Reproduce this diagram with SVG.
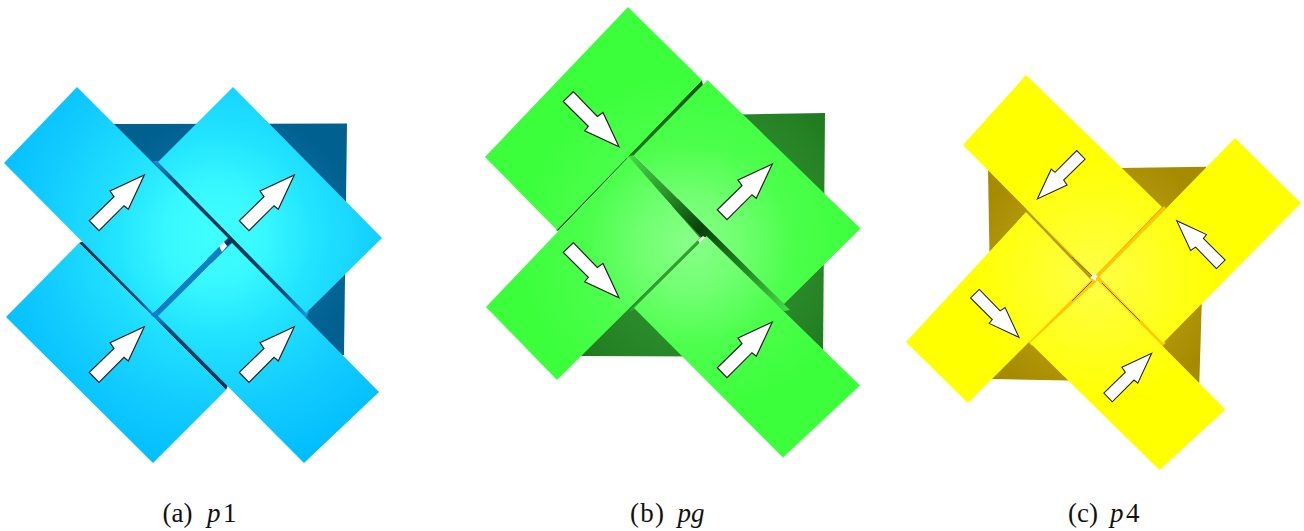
<svg xmlns="http://www.w3.org/2000/svg" width="1304" height="531" viewBox="0 0 1304 531">
<style>
.cap{font-family:"Liberation Serif","Times New Roman",serif;font-size:27px;fill:#111}
.cap .i{font-style:italic}
.arrow{fill:#fff;stroke:#222;stroke-width:1.2;stroke-linejoin:miter}
.ta{fill:url(#ga)}.tb{fill:url(#gb)}.tc{fill:url(#gc)}
.seam{stroke:#7a6400;stroke-width:1;fill:none}
</style>
<defs>
<radialGradient id="ga" gradientUnits="userSpaceOnUse" cx="215" cy="235" r="245"><stop offset="0" stop-color="#40ffff"/><stop offset=".2" stop-color="#38f8ff"/><stop offset=".4" stop-color="#22e4ff"/><stop offset=".7" stop-color="#12ccff"/><stop offset="1" stop-color="#00bcff"/></radialGradient>
<radialGradient id="gb" gradientUnits="userSpaceOnUse" cx="690" cy="245" r="170"><stop offset="0" stop-color="#88ff88"/><stop offset=".3" stop-color="#70ff70"/><stop offset=".6" stop-color="#4cff4c"/><stop offset="1" stop-color="#3cff3c"/></radialGradient>
<radialGradient id="gc" gradientUnits="userSpaceOnUse" cx="1095" cy="278" r="125"><stop offset="0" stop-color="#ffff48"/><stop offset="1" stop-color="#ffff00"/></radialGradient>
<linearGradient id="s1" gradientUnits="userSpaceOnUse" x1="153" y1="162" x2="306" y2="313"><stop offset="0" stop-color="#1a90e0"/><stop offset=".14" stop-color="#084a70"/><stop offset=".5" stop-color="#002f4c"/><stop offset=".86" stop-color="#084a70"/><stop offset="1" stop-color="#1a90e0"/></linearGradient>
<linearGradient id="s2" gradientUnits="userSpaceOnUse" x1="79" y1="243" x2="226" y2="390"><stop offset="0" stop-color="#002f4c"/><stop offset=".4" stop-color="#084a70"/><stop offset=".5" stop-color="#1a90e0"/><stop offset=".6" stop-color="#084a70"/><stop offset="1" stop-color="#002f4c"/></linearGradient>
<linearGradient id="s3" gradientUnits="userSpaceOnUse" x1="630" y1="156" x2="787" y2="308"><stop offset="0" stop-color="#46d846"/><stop offset=".22" stop-color="#2a9a2a"/><stop offset=".46" stop-color="#0c400c"/><stop offset=".75" stop-color="#228a22"/><stop offset="1" stop-color="#46d846"/></linearGradient>
<linearGradient id="s4" gradientUnits="userSpaceOnUse" x1="556" y1="230" x2="703" y2="80"><stop offset="0" stop-color="#115511"/><stop offset=".5" stop-color="#1c7a1c"/><stop offset="1" stop-color="#115511"/></linearGradient>
<radialGradient id="ba" gradientUnits="userSpaceOnUse" cx="230" cy="240" r="130"><stop offset=".7" stop-color="#0a6aa0"/><stop offset="1" stop-color="#00608f"/></radialGradient>
<radialGradient id="bb" gradientUnits="userSpaceOnUse" cx="700" cy="235" r="180"><stop offset=".6" stop-color="#2a8a2a"/><stop offset="1" stop-color="#1f781f"/></radialGradient>
<radialGradient id="bc" gradientUnits="userSpaceOnUse" cx="1095" cy="275" r="130"><stop offset=".55" stop-color="#b89c10"/><stop offset="1" stop-color="#a68a00"/></radialGradient>
<polygon id="arr" points="-55,45.7 -30.3,21.7 -34.3,16 0,0 -16,34.3 -20.3,30.7 -45.3,55.7"/>
</defs>

<g id="connectors"/>

<g id="panel-a">
  <polygon id="a-back" fill="url(#ba)" points="112,124 347,123.500 344,355 300,355 150,200"/>
  <polygon id="a-gap1" fill="url(#s1)" points="153,161 159,161 309,312 306,318 231,243 226,241"/>
  <polygon id="a-gap2" fill="url(#s2)" points="79,243 84,241 228,385 226,390 154,318"/>
  <polygon id="a-gap3" fill="#0a80c8" points="221,245 230,244 158,318 150,316"/>
  <polygon fill="#00385a" points="223,240 230,237 233,242 227,246"/>
  <polygon fill="#fff" points="218,244 224,242 227,246 222,252"/>
  <g id="a-tile-1"><polygon class="ta" points="77,87 4,163 153,313 228,238"/></g>
  <g id="a-tile-2"><polygon class="ta" points="233,87 382,238 306,313 158,162"/></g>
  <g id="a-tile-3"><polygon class="ta" points="6,317 79,243 226,390 153,463"/></g>
  <g id="a-tile-4"><polygon class="ta" points="158,316 232,243 379,392 304,463"/></g>
  <g id="a-arrows" class="arrow">
    <use href="#arr" transform="translate(144.3,175)"/>
    <use href="#arr" transform="translate(294.3,175)"/>
    <use href="#arr" transform="translate(144.3,326.700)"/>
    <use href="#arr" transform="translate(294.3,326.700)"/>
  </g>
</g>

<g id="panel-b">
  <polygon id="b-back" fill="url(#bb)" points="740,114.500 825,113 823,357 581,356 640,250"/>
  <polygon id="b-gap1" fill="url(#s4)" points="702,80 703,86 632,158 628,158 558,231 556,230"/>
  <polygon id="b-gap2" fill="url(#s3)" points="626,157 634,155 790,310 784,311 703,239"/>
  <polygon id="b-gap3" fill="#2f9f2f" points="698,238 708,238 634,310 628,312"/>
  <polygon fill="#fff" points="698,240 703,236 706,238 700,244"/>
  <g id="b-tile-1"><polygon class="tb" points="628,7 485,157 557,230 702,80"/></g>
  <g id="b-tile-2"><polygon class="tb" points="486,307 629,157 700,238 557,380"/></g>
  <g id="b-tile-3"><polygon class="tb" points="707.500,80 860.500,228.500 784,304 634,155"/></g>
  <g id="b-tile-4"><polygon class="tb" points="706.500,236 860,385.500 783,457.500 634,308"/></g>
  <g id="b-arrows" class="arrow">
    <use href="#arr" transform="translate(619,146.700) rotate(90)"/>
    <use href="#arr" transform="translate(619,297.700) rotate(90)"/>
    <use href="#arr" transform="translate(772.300,164)"/>
    <use href="#arr" transform="translate(772.300,322)"/>
  </g>
</g>

<g id="panel-c">
  <polygon id="c-back" fill="url(#bc)" points="988,170 1206,166.700 1199.300,383 991.700,379"/>
  <polygon id="c-gap" fill="#ffc800" points="1026,209 1030,209 1097,274 1164,206 1166,208 1100,278 1166,343 1162,346 1096,282 1032,346 1028,342 1092,277"/>
  <path class="seam" d="M1072,257 L1092,276 M1102,283 L1140,321 M1092,281 L1072,301"/>
  <g id="c-tile-1"><polygon class="tc" points="1026,75 963,145 1094,277 1162,207"/></g>
  <g id="c-tile-2"><polygon class="tc" points="1235,138 1301,203 1163,343 1099,277"/></g>
  <g id="c-tile-3"><polygon class="tc" points="906,342 968,403 1091,280 1026,212"/></g>
  <g id="c-tile-4"><polygon class="tc" points="1030,343 1097.500,280.500 1225.500,409.500 1159.500,470"/></g>
  <polygon fill="#fff" points="1093,273 1095,275 1098,276 1096,278 1096,281 1093,279 1090,278 1092,276"/>
  <g id="c-arrows" class="arrow">
    <use href="#arr" transform="translate(1037.300,199) rotate(180) scale(.87)"/>
    <use href="#arr" transform="translate(1176.700,220.700) rotate(-90) scale(.87)"/>
    <use href="#arr" transform="translate(1019,337.300) rotate(90) scale(.87)"/>
    <use href="#arr" transform="translate(1151.700,353.300) scale(.87)"/>
  </g>
</g>

<g id="captions">
  <text class="cap" y="522"><tspan x="162.500">(a)</tspan><tspan class="i" x="207">p</tspan><tspan x="223">1</tspan></text>
  <text class="cap" y="522"><tspan x="630" textLength="34">(b)</tspan><tspan class="i" x="677.500">pg</tspan></text>
  <text class="cap" y="522"><tspan x="1068">(c)</tspan><tspan class="i" x="1110">p</tspan><tspan x="1126">4</tspan></text>
</g>
</svg>
